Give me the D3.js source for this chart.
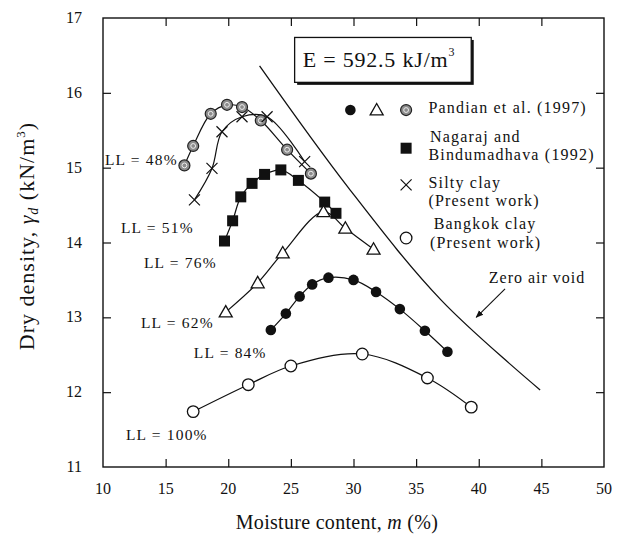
<!DOCTYPE html>
<html>
<head>
<meta charset="utf-8">
<script src="https://cdn.jsdelivr.net/npm/d3@7"></script>
<style>
  html, body { margin: 0; padding: 0; background: #fff; }
  svg { display: block; }
  text { font-family: "Liberation Serif", "DejaVu Serif", serif; fill: #111; }
</style>
</head>
<body>
<svg id="chart" width="617" height="539"></svg>
<script>
// ---------- data ----------
const xTicks = [10, 15, 20, 25, 30, 35, 40, 45, 50];
const yTicks = [11, 12, 13, 14, 15, 16, 17];

// Pandian et al. (1997), LL = 48% (gray patterned circles)
const ll48X = [16.5, 17.2, 18.6, 19.9, 21.1, 22.6, 24.7, 26.6];
const ll48Y = [15.03, 15.29, 15.72, 15.84, 15.81, 15.63, 15.24, 14.92];
// Silty clay (present work), LL = 51%
const siltyX = [17.3, 18.7, 19.5, 21.1, 23.1, 26.1];
const siltyY = [14.57, 14.99, 15.48, 15.68, 15.68, 15.08];
// Nagaraj and Bindumadhava (1992), LL = 76%
const nagX = [19.7, 20.35, 21.0, 21.9, 22.9, 24.2, 25.6, 27.7, 28.6];
const nagY = [14.02, 14.29, 14.61, 14.79, 14.91, 14.97, 14.83, 14.54, 14.39];
// Pandian et al. (1997), LL = 62% (triangles)
const ll62X = [19.8, 22.35, 24.35, 27.6, 29.35, 31.6];
const ll62Y = [13.07, 13.46, 13.86, 14.41, 14.19, 13.91];
// Pandian et al. (1997), LL = 84% (filled circles)
const ll84X = [23.4, 24.6, 25.7, 26.7, 28.0, 30.0, 31.8, 33.7, 35.7, 37.5];
const ll84Y = [12.83, 13.05, 13.28, 13.44, 13.53, 13.50, 13.34, 13.11, 12.82, 12.54];
// Bangkok clay (present work), LL = 100%
const bkkX = [17.2, 21.6, 25.0, 30.7, 35.9, 39.4];
const bkkY = [11.74, 12.10, 12.35, 12.51, 12.19, 11.80];
// Zero air void line
const zavX = [22.5, 29.6, 37.0, 44.9];
const zavY = [16.36, 14.73, 13.23, 12.03];

const llLabels = ["LL = 48%", "LL = 51%", "LL = 76%", "LL = 62%", "LL = 84%", "LL = 100%"];
const llLabelX = [10.15, 11.43, 13.27, 13.03, 17.25, 11.83];
const llLabelY = [15.10, 14.19, 13.72, 12.92, 12.52, 11.43];

const legendRows = [
  ["Pandian et al. (1997)"],
  ["Nagaraj and", "Bindumadhava (1992)"],
  ["Silty clay", "(Present work)"],
  ["Bangkok clay", "(Present work)"]
];

// ---------- layout ----------
const svg = d3.select("#chart");
const L = 103, R = 604, T = 18, B = 467;
const x = d3.scaleLinear().domain([10, 50]).range([L, R]);
const y = d3.scaleLinear().domain([11, 17]).range([B, T]);

// frame
svg.append("rect").attr("x", L).attr("y", T).attr("width", R - L).attr("height", B - T)
  .attr("fill", "none").attr("stroke", "#111").attr("stroke-width", 1.4);

const tk = 8;
svg.append("g").attr("transform", `translate(0,${B})`)
  .call(d3.axisTop(x).tickValues(xTicks.slice(1, -1)).tickSize(tk).tickFormat(""))
  .call(g => g.select(".domain").remove());
svg.append("g").attr("transform", `translate(0,${T})`)
  .call(d3.axisBottom(x).tickValues(xTicks.slice(1, -1)).tickSize(tk).tickFormat(""))
  .call(g => g.select(".domain").remove());
svg.append("g").attr("transform", `translate(${L},0)`)
  .call(d3.axisRight(y).tickValues(yTicks.slice(1, -1)).tickSize(tk).tickFormat(""))
  .call(g => g.select(".domain").remove());
svg.append("g").attr("transform", `translate(${R},0)`)
  .call(d3.axisLeft(y).tickValues(yTicks.slice(1, -1)).tickSize(tk).tickFormat(""))
  .call(g => g.select(".domain").remove());
svg.selectAll(".tick line").attr("stroke", "#111").attr("stroke-width", 1.2);

// tick labels
svg.append("g").selectAll("text").data(xTicks).join("text")
  .attr("x", d => x(d)).attr("y", B + 27).attr("text-anchor", "middle")
  .attr("font-size", 16).text(d => d);
svg.append("g").selectAll("text").data(yTicks).join("text")
  .attr("x", L - 21).attr("y", d => y(d) + 5).attr("text-anchor", "end")
  .attr("font-size", 16).text(d => d);

// axis titles
svg.append("text").attr("x", 337).attr("y", 529).attr("text-anchor", "middle")
  .attr("font-size", 20).attr("letter-spacing", 0.3)
  .html('Moisture content, <tspan font-style="italic">m</tspan> (%)');
svg.append("text").attr("transform", "translate(34,236) rotate(-90)")
  .attr("text-anchor", "middle").attr("font-size", 22).attr("letter-spacing", 1)
  .html('Dry density, <tspan font-style="italic">γ</tspan><tspan font-style="italic" font-size="14" dy="4">d</tspan><tspan dy="-4"> (kN/m</tspan><tspan font-size="13" dy="-9">3</tspan><tspan dy="9">)</tspan>');

// zero air void
const curve = d3.line().x(d => x(d[0])).y(d => y(d[1])).curve(d3.curveCatmullRom.alpha(0.5));
svg.append("path").attr("d", curve(d3.zip(zavX, zavY)))
  .attr("fill", "none").attr("stroke", "#111").attr("stroke-width", 1.3);

// series lines
const series = [
  { xs: ll48X, ys: ll48Y, m: "gray" },
  { xs: siltyX, ys: siltyY, m: "x" },
  { xs: nagX, ys: nagY, m: "square" },
  { xs: ll62X, ys: ll62Y, m: "tri" },
  { xs: ll84X, ys: ll84Y, m: "dot" },
  { xs: bkkX, ys: bkkY, m: "open" }
];
series.forEach(s => {
  svg.append("path").attr("d", curve(d3.zip(s.xs, s.ys)))
    .attr("fill", "none").attr("stroke", "#111").attr("stroke-width", 1.2);
});

function marker(g, type, cx, cy) {
  if (type === "dot") {
    g.append("circle").attr("cx", cx).attr("cy", cy).attr("r", 5.3).attr("fill", "#111");
  } else if (type === "open") {
    g.append("circle").attr("cx", cx).attr("cy", cy).attr("r", 5.8)
      .attr("fill", "#fff").attr("stroke", "#111").attr("stroke-width", 1.3);
  } else if (type === "gray") {
    g.append("circle").attr("cx", cx).attr("cy", cy).attr("r", 5.5)
      .attr("fill", "#8c8c8c").attr("stroke", "#222").attr("stroke-width", 1.2);
    g.append("circle").attr("cx", cx).attr("cy", cy).attr("r", 2.4)
      .attr("fill", "none").attr("stroke", "#eee").attr("stroke-width", 1);
  } else if (type === "square") {
    g.append("rect").attr("x", cx - 5.5).attr("y", cy - 5.5).attr("width", 11).attr("height", 11)
      .attr("fill", "#111");
  } else if (type === "tri") {
    const s = 6.5;
    g.append("path").attr("d", `M${cx},${cy - s}L${cx + s},${cy + s * 0.75}L${cx - s},${cy + s * 0.75}Z`)
      .attr("fill", "#fff").attr("stroke", "#111").attr("stroke-width", 1.3);
  } else if (type === "x") {
    const s = 5.5;
    g.append("path").attr("d", `M${cx - s},${cy - s}L${cx + s},${cy + s}M${cx - s},${cy + s}L${cx + s},${cy - s}`)
      .attr("stroke", "#111").attr("stroke-width", 1.2);
  }
}
series.forEach(s => {
  const g = svg.append("g");
  s.xs.forEach((xv, i) => marker(g, s.m, x(xv), y(s.ys[i])));
});

// LL labels
svg.append("g").selectAll("text").data(llLabels).join("text")
  .attr("x", (d, i) => x(llLabelX[i])).attr("y", (d, i) => y(llLabelY[i]) + 5)
  .attr("font-size", 15.5).attr("letter-spacing", 1.2).text(d => d);

// Energy box
const bx = x(25.3), by = y(16.74), bw = x(39.4) - x(25.3), bh = y(16.14) - y(16.74);
svg.append("rect").attr("x", bx + 2.5).attr("y", by + 2.5).attr("width", bw).attr("height", bh).attr("fill", "#111");
svg.append("rect").attr("x", bx).attr("y", by).attr("width", bw).attr("height", bh)
  .attr("fill", "#fff").attr("stroke", "#111").attr("stroke-width", 1.3);
svg.append("text").attr("x", bx + 8).attr("y", by + bh / 2 + 7.5).attr("font-size", 22)
  .attr("letter-spacing", 0.8)
  .html('E = 592.5 kJ/m<tspan font-size="12" dy="-11">3</tspan>');

// legend
const lg = svg.append("g");
const lgMarkX = x(34.2);
marker(lg, "dot", x(29.75), y(15.77));
marker(lg, "tri", x(31.85), y(15.77));
marker(lg, "gray", lgMarkX, y(15.77));
marker(lg, "square", lgMarkX, y(15.26));
marker(lg, "x", lgMarkX, y(14.77));
marker(lg, "open", lgMarkX, y(14.06));
const rowY = [[15.80], [15.41, 15.17], [14.79, 14.55], [14.25, 14.0]];
const rowX = [[35.98], [36.1, 35.98], [35.98, 35.98], [36.4, 36.1]];
legendRows.forEach((rows, i) => {
  rows.forEach((t, j) => {
    lg.append("text").attr("x", x(rowX[i][j])).attr("y", y(rowY[i][j]) + 5)
      .attr("font-size", 16).attr("letter-spacing", 1.2).text(t);
  });
});

// zero air void annotation
svg.append("text").attr("x", x(40.8)).attr("y", y(13.53) + 5).attr("font-size", 16)
  .attr("letter-spacing", 1).text("Zero air void");
svg.append("defs").append("marker").attr("id", "ah").attr("viewBox", "0 0 10 10")
  .attr("refX", 9).attr("refY", 5).attr("markerWidth", 7).attr("markerHeight", 7)
  .attr("orient", "auto")
  .append("path").attr("d", "M0,1L10,5L0,9Z").attr("fill", "#111");
svg.append("line").attr("x1", x(42.1)).attr("y1", y(13.38)).attr("x2", x(39.8)).attr("y2", y(13.0))
  .attr("stroke", "#111").attr("stroke-width", 1.1).attr("marker-end", "url(#ah)");
</script>
</body>
</html>
